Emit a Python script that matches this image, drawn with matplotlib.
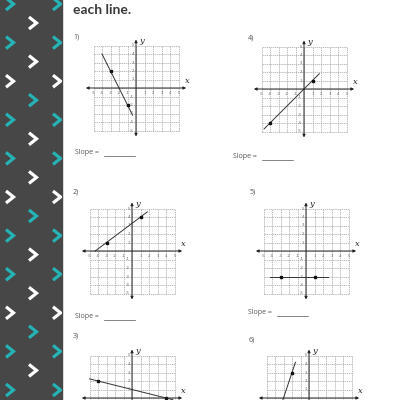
import matplotlib
matplotlib.use('Agg')
from matplotlib import pyplot as plt
from matplotlib.patches import Rectangle
import numpy as np

W = H = 400
DARK = '#474747'
TEAL = '#25b3b6'
INK = '#333333'
GRID = '#a6a6a6'

# one entry per problem: number, slope/intercept of the drawn line,
# x-range of the drawn segment, and the marked points
NUMBERS = ['1)', '2)', '3)', '4)', '5)', '6)']
SLOPES = [-2, 0.75, -0.25, 1, 0, 3]
INTERCEPTS = [-4, 3.25, 1, 0, -3, 9]
LINE_X0 = [-4.0, -4.33, -5.0, -4.7, -4.2, -3.1]
LINE_X1 = [-0.4, 1.8, 4.8, 1.8, 2.6, -1.6]
POINTS_X = [[-3, -1], [-3, 1], [-4, 4], [-4, 1], [-3, 1], [-2]]
POINTS_Y = [[2, -2], [1, 4], [2, 0], [-4, 1], [-3, -3], [3]]
TICKS = [-5, -4, -3, -2, -1, 1, 2, 3, 4, 5]

# layout in page pixels
ORIGINS = [(136, 88), (132, 251), (132, 398), (304, 89), (306, 251), (309, 398)]
NUM_POS = [(73, 37), (73, 192), (73, 336), (248, 38), (250, 192), (249, 340)]
SLOPE_POS = [(75, 153), (75, 317), None, (233, 157), (248, 313), None]
SCALE = 8.5   # pixels per unit
HALF = 6.5    # half-width of each graph's axes, in units

fig = plt.figure(figsize=(4, 4), dpi=100)
bg = fig.add_axes([0, 0, 1, 1])
bg.set_xlim(0, W)
bg.set_ylim(H, 0)
bg.axis('off')

# sidebar with chevrons
side = Rectangle((0, 0), 62, H, color=DARK, zorder=0)
bg.add_patch(side)
period = 38.6
for cx, start, pattern in [(10, 4, 'TTW'), (33, 23, 'WWT'), (57, 4, 'TTW')]:
    for i, cy in enumerate(np.arange(start, H + 20, period)):
        col = TEAL if pattern[i % 3] == 'T' else 'white'
        ln, = bg.plot([cx - 4, cx + 3.5, cx - 4], [cy - 6, cy, cy + 6],
                      color=col, lw=2.3, solid_joinstyle='miter',
                      solid_capstyle='butt', zorder=1)
        ln.set_clip_path(side)

bg.text(73, 14, 'each line.', fontsize=10, fontweight='bold',
        family='Lato', color='#3a3a3a', va='baseline')

for k in range(6):
    nx, ny = NUM_POS[k]
    bg.text(nx, ny, NUMBERS[k], fontsize=5, family='Open Sans',
            color='#555555', va='center')
    if SLOPE_POS[k] is not None:
        sx, sy = SLOPE_POS[k]
        bg.text(sx, sy, 'Slope =', fontsize=5, family='Open Sans',
                color='#555555', va='center')
        bg.plot([sx + 29, sx + 60], [sy + 2.5, sy + 2.5], color='#555555', lw=0.5)

    ox, oy = ORIGINS[k]
    size = 2 * HALF * SCALE
    left = ox - HALF * SCALE
    top = oy - HALF * SCALE
    ax = fig.add_axes([left / W, 1 - (top + size) / H, size / W, size / H])
    ax.set_xlim(-HALF, HALF)
    ax.set_ylim(-HALF, HALF)
    ax.axis('off')
    ax.patch.set_alpha(0)

    for v in range(-5, 6):
        ax.plot([v, v], [-5, 5], color=GRID, lw=0.5, ls=(0, (2, 1)))
        ax.plot([-5, 5], [v, v], color=GRID, lw=0.5, ls=(0, (2, 1)))

    arrow = dict(arrowstyle='<|-|>', color='#222222', lw=0.7,
                 mutation_scale=4, shrinkA=0, shrinkB=0)
    ax.annotate('', xy=(5.9, 0), xytext=(-5.9, 0), arrowprops=arrow)
    ax.annotate('', xy=(0, 5.7), xytext=(0, -5.7), arrowprops=arrow)
    ax.text(6.0, 0.35, 'x', fontsize=6, style='italic', family='DejaVu Serif',
            color='#222222', ha='center', va='bottom')
    ax.text(0.35, 5.5, 'y', fontsize=6, style='italic', family='DejaVu Serif',
            color='#222222', ha='left', va='center')
    # tick numbers; the bottom graphs run off the page, so skip what falls off it
    for t in TICKS:
        if oy + 0.55 * SCALE < H - 3:
            ax.text(t, -0.55, str(t), fontsize=2.8, color='#666666',
                    ha='center', va='center')
        if oy - t * SCALE < H - 3:
            ax.text(-0.25, t, str(t), fontsize=2.8, color='#666666',
                    ha='right', va='center')

    xs = np.array([LINE_X0[k], LINE_X1[k]])
    ax.plot(xs, SLOPES[k] * xs + INTERCEPTS[k], color=INK, lw=0.7)
    ax.plot(POINTS_X[k], POINTS_Y[k], 's', color='#111111', ms=1.6)

fig.savefig('out.png', dpi=100)
